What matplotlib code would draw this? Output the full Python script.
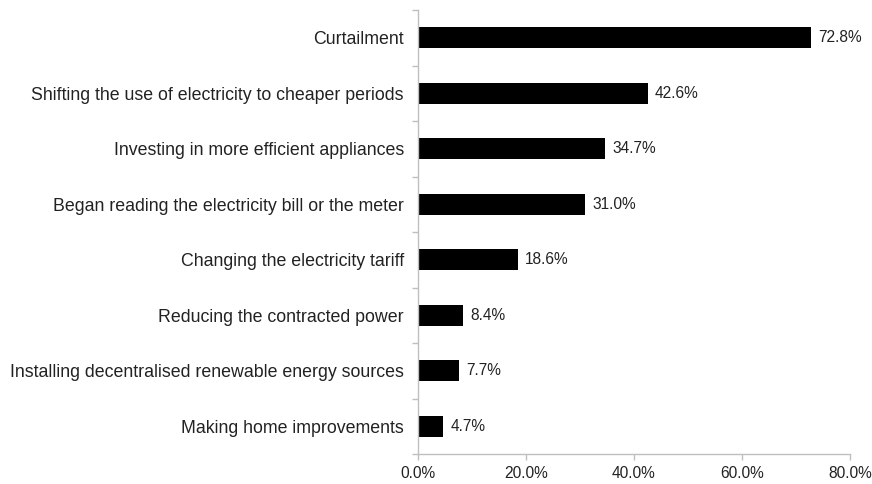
import matplotlib.pyplot as plt
import numpy as np

categories = [
    "Curtailment",
    "Shifting the use of electricity to cheaper periods",
    "Investing in more efficient appliances",
    "Began reading the electricity bill or the meter",
    "Changing the electricity tariff",
    "Reducing the contracted power",
    "Installing decentralised renewable energy sources",
    "Making home improvements",
]
shares = [72.8, 42.6, 34.7, 31.0, 18.6, 8.4, 7.7, 4.7]
x_ticks = [0, 20, 40, 60, 80]

plt.rcParams["font.family"] = ["Liberation Sans", "DejaVu Sans"]
plt.rcParams["font.size"] = 12.8

fig = plt.figure(figsize=(8.72, 4.84), dpi=100)
ax = fig.add_axes([0.479, 0.062, 0.496, 0.917])

n = len(categories)
pos = np.arange(n)
ax.barh(pos, shares, height=0.38, color="black")
for p, v in zip(pos, shares):
    ax.text(v + 1.3, p, f"{v:.1f}%", va="center", ha="left", color="#222222", fontsize=11.2)

ax.set_ylim(n - 0.5, -0.5)
ax.set_xlim(0, 80)
ax.set_yticks(pos, categories)
ax.set_yticks(np.arange(n + 1) - 0.5, minor=True)
ax.tick_params(axis="y", which="major", length=0, pad=10, labelcolor="#222222")
ax.tick_params(axis="y", which="minor", length=4, color="#bfbfbf", width=1)
ax.set_xticks(x_ticks, [f"{t:.1f}%" for t in x_ticks])
ax.tick_params(axis="x", length=4, color="#bfbfbf", width=1, labelcolor="#222222",
               labelsize=11.2, pad=5)

for side in ["top", "right"]:
    ax.spines[side].set_visible(False)
for side in ["left", "bottom"]:
    ax.spines[side].set_color("#bfbfbf")
    ax.spines[side].set_linewidth(1)

fig.savefig("out.png", dpi=100)
